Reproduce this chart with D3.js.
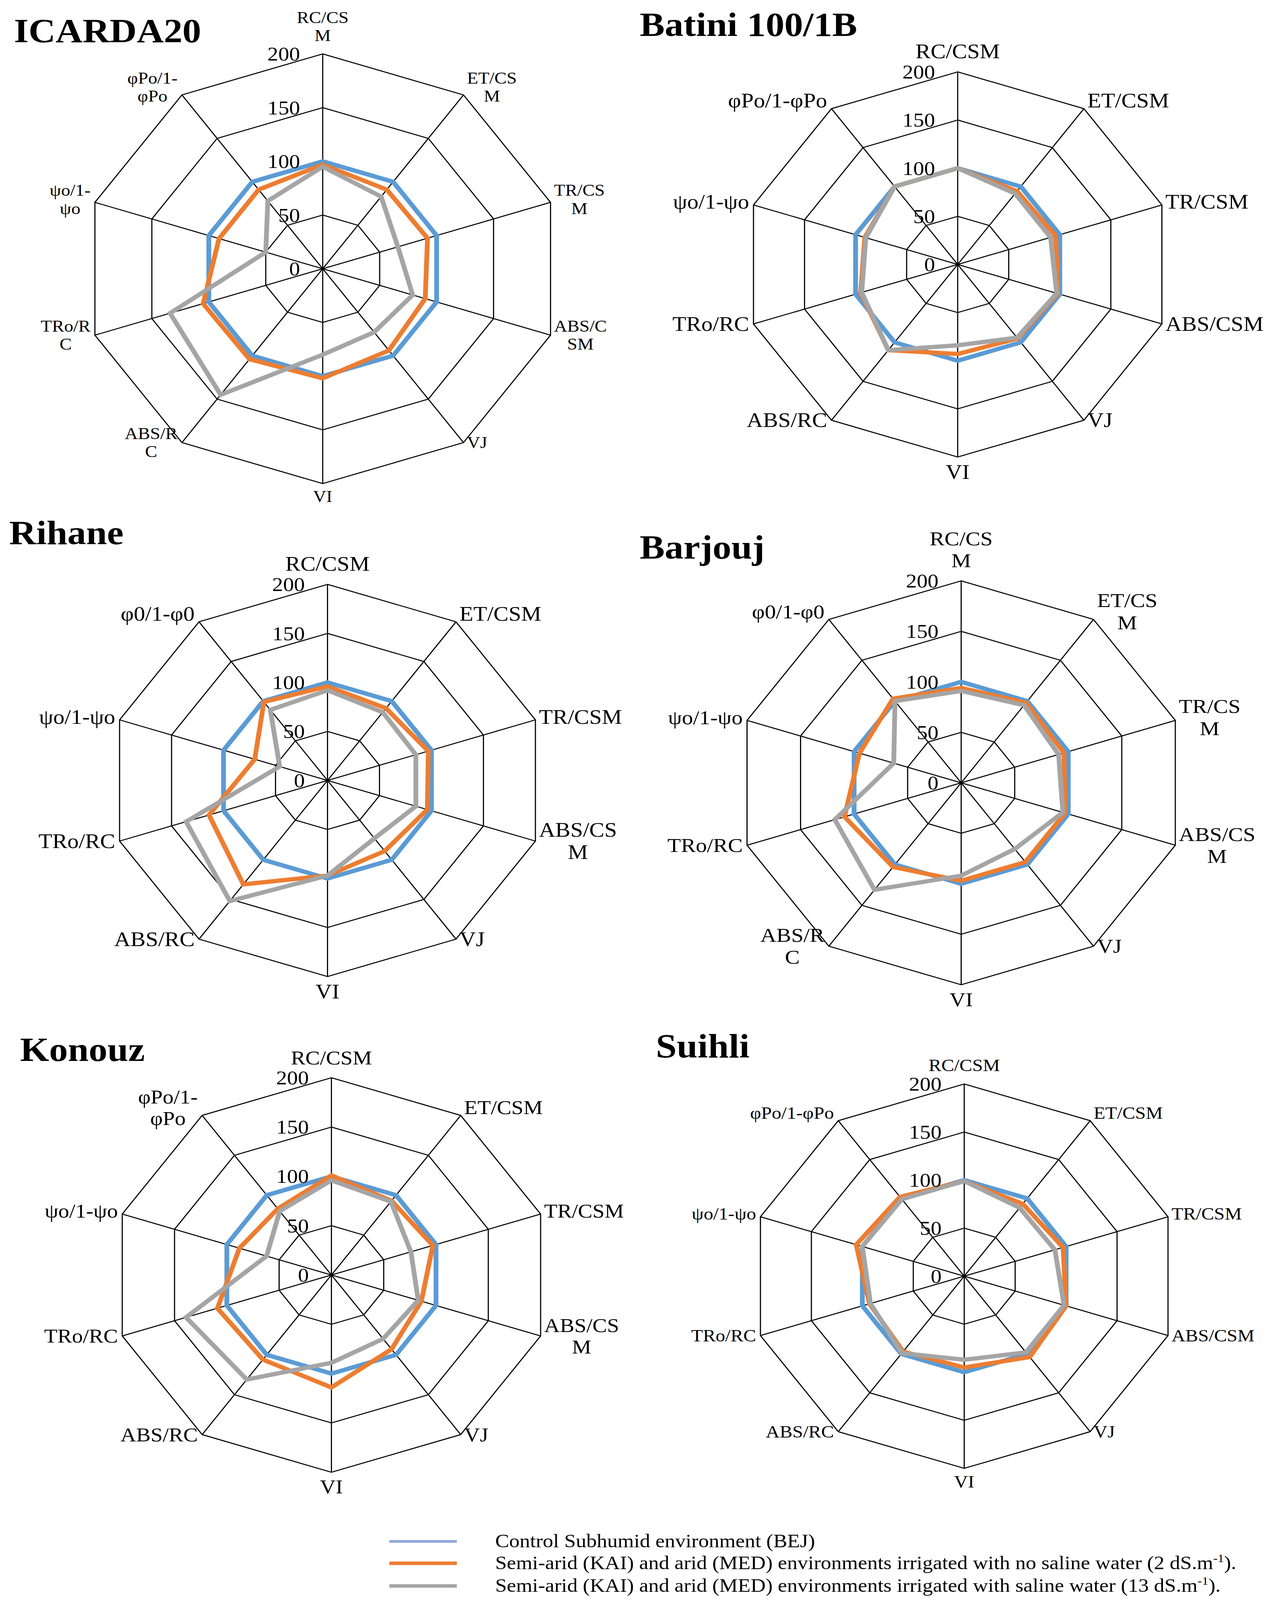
<!DOCTYPE html>
<html>
<head>
<meta charset="utf-8">
<script src="https://cdn.jsdelivr.net/npm/d3@7"></script>
<style>
    body { margin: 0; background: #fff; }
    svg { display: block; }
    text { font-family: "Liberation Serif", "Times New Roman", serif; fill: #000; }
</style>
</head>
<body>
<svg id="chart"></svg>
<script>
// ---- data (percent of control) ----
const ticks = [0, 50, 100, 150, 200];

const seriesNames = ['Control Subhumid environment (BEJ)',
    'Semi-arid (KAI) and arid (MED) environments irrigated with no saline water (2 dS.m',
    'Semi-arid (KAI) and arid (MED) environments irrigated with saline water (13 dS.m'];

// axis order: RC/CSM, ET/CSM, TR/CSM, ABS/CSM, VJ, VI, ABS/RC, TRo/RC, psi, phi
const icardaLabels = ['RC/CS\nM', 'ET/CS\nM', 'TR/CS\nM', 'ABS/C\nSM', 'VJ', 'VI', 'ABS/R\nC', 'TRo/R\nC', 'ψo/1-\nψo', 'φPo/1-\nφPo'];
const batiniLabels = ['RC/CSM', 'ET/CSM', 'TR/CSM', 'ABS/CSM', 'VJ', 'VI', 'ABS/RC', 'TRo/RC', 'ψo/1-ψo', 'φPo/1-φPo'];
const rihaneLabels = ['RC/CSM', 'ET/CSM', 'TR/CSM', 'ABS/CS\nM', 'VJ', 'VI', 'ABS/RC', 'TRo/RC', 'ψo/1-ψo', 'φ0/1-φ0'];
const barjoujLabels = ['RC/CS\nM', 'ET/CS\nM', 'TR/CS\nM', 'ABS/CS\nM', 'VJ', 'VI', 'ABS/R\nC', 'TRo/RC', 'ψo/1-ψo', 'φ0/1-φ0'];
const konouzLabels = ['RC/CSM', 'ET/CSM', 'TR/CSM', 'ABS/CS\nM', 'VJ', 'VI', 'ABS/RC', 'TRo/RC', 'ψo/1-ψo', 'φPo/1-\nφPo'];
const suihliLabels = ['RC/CSM', 'ET/CSM', 'TR/CSM', 'ABS/CSM', 'VJ', 'VI', 'ABS/RC', 'TRo/RC', 'ψo/1-ψo', 'φPo/1-φPo'];

const icardaControl = [100, 100, 100, 100, 100, 100, 100, 100, 100, 100];
const icardaFresh   = [97, 91, 92, 90, 94, 102, 104, 105, 91, 91];
const icardaSaline  = [95, 83, 66, 79, 73, 80, 145, 134, 50, 78];

const batiniControl = [100, 100, 100, 100, 100, 100, 100, 100, 100, 100];
const batiniFresh   = [100, 94, 96, 98, 95, 93, 110, 95, 91, 100];
const batiniSaline  = [100, 91, 91, 97, 94, 84, 110, 94, 90, 100];

const rihaneControl = [100, 100, 100, 100, 100, 100, 100, 100, 100, 100];
const rihaneFresh   = [96, 91, 97, 96, 89, 97, 131, 114, 70, 99];
const rihaneSaline  = [92, 86, 85, 85, 73, 97, 152, 136, 46, 89];

const barjoujControl = [100, 100, 100, 100, 100, 100, 100, 100, 100, 100];
const barjoujFresh   = [94, 98, 96, 97, 97, 97, 103, 109, 95, 103];
const barjoujSaline  = [91, 95, 91, 95, 81, 92, 131, 118, 63, 100];

const konouzControl = [100, 100, 100, 100, 100, 100, 100, 100, 100, 100];
const konouzFresh   = [101, 93, 97, 86, 93, 114, 106, 109, 88, 83];
const konouzSaline  = [96, 92, 76, 83, 80, 89, 131, 139, 62, 80];

const suihliControl = [100, 100, 100, 100, 100, 100, 100, 100, 100, 100];
const suihliFresh   = [99, 93, 97, 100, 104, 95, 97, 93, 106, 102];
const suihliSaline  = [99, 88, 89, 98, 98, 87, 99, 92, 100, 99];

// ---- layout ----
const W = 2923, H = 4120;   // figure is stretched horizontally to 3259 px
const colors = ['#5B9BD5', '#ED7D31', '#A5A5A5'];

const panels = [
    { title: 'ICARDA20', tx: 32, ty: 108, cx: 741, cy: 688, r: 550, fs: 42, labels: icardaLabels, series: [icardaControl, icardaFresh, icardaSaline] },
    { title: 'Batini 100/1B', tx: 1469, ty: 92, cx: 2199, cy: 677, r: 493, fs: 52, labels: batiniLabels, series: [batiniControl, batiniFresh, batiniSaline] },
    { title: 'Rihane', tx: 21, ty: 1393, cx: 752, cy: 1998, r: 502, fs: 52, labels: rihaneLabels, series: [rihaneControl, rihaneFresh, rihaneSaline] },
    { title: 'Barjouj', tx: 1469, ty: 1430, cx: 2207, cy: 2004, r: 517, fs: 51, labels: barjoujLabels, series: [barjoujControl, barjoujFresh, barjoujSaline] },
    { title: 'Konouz', tx: 46, ty: 2716, cx: 761, cy: 3264, r: 505, fs: 50, labels: konouzLabels, series: [konouzControl, konouzFresh, konouzSaline] },
    { title: 'Suihli', tx: 1506, ty: 2707, cx: 2214, cy: 3267, r: 492, fs: 44, labels: suihliLabels, series: [suihliControl, suihliFresh, suihliSaline] }
];

const svg = d3.select('#chart')
    .attr('width', 3259)
    .attr('height', H)
    .attr('viewBox', `0 0 ${W} ${H}`)
    .attr('preserveAspectRatio', 'none');

svg.append('rect').attr('width', W).attr('height', H).attr('fill', '#fff');

function drawPanel(p) {
    const n = p.labels.length;
    const angle = i => i * 2 * Math.PI / n;
    const rScale = d3.scaleLinear().domain([0, 200]).range([0, p.r]);

    const g = svg.append('g').attr('transform', `translate(${p.cx},${p.cy})`);

    // grid rings
    const ring = d3.lineRadial()
        .angle((d, i) => angle(i))
        .radius(d => rScale(d))
        .curve(d3.curveLinearClosed);

    g.selectAll('.ring')
        .data(ticks.slice(1))
        .join('path')
        .attr('class', 'ring')
        .attr('d', t => ring(d3.range(n).map(() => t)))
        .attr('fill', 'none')
        .attr('stroke', '#000')
        .attr('stroke-width', 2.6);

    // spokes
    g.selectAll('.spoke')
        .data(d3.range(n))
        .join('line')
        .attr('class', 'spoke')
        .attr('x1', 0).attr('y1', 0)
        .attr('x2', i => rScale(200) * Math.sin(angle(i)))
        .attr('y2', i => -rScale(200) * Math.cos(angle(i)))
        .attr('stroke', '#000')
        .attr('stroke-width', 2.6);

    // series
    g.selectAll('.series')
        .data(p.series)
        .join('path')
        .attr('class', 'series')
        .attr('d', d => ring(d))
        .attr('fill', 'none')
        .attr('stroke', (d, i) => colors[i])
        .attr('stroke-width', 11)
        .attr('stroke-linejoin', 'miter');

    // tick labels
    g.selectAll('.tick-label')
        .data(ticks)
        .join('text')
        .attr('class', 'tick-label')
        .attr('x', -52)
        .attr('y', t => -rScale(t))
        .attr('dominant-baseline', 'central')
        .attr('text-anchor', 'end')
        .style('font-size', '50px')
        .text(t => t);

    // category labels
    const lh = p.fs * 1.1;
    const R = rScale(200);
    p.labels.forEach((lab, i) => {
        const lines = lab.split('\n');
        const s = Math.sin(angle(i)), c = Math.cos(angle(i));
        const vx = R * s, vy = -R * c;
        const blockH = lines.length * lh;
        let bcy;
        if (Math.abs(s) < 0.1) bcy = c > 0 ? vy - 24 - blockH / 2 : vy + 10 + blockH / 2;
        else bcy = vy - (c > 0 ? 25 * c : 0);

        const txt = g.append('g').attr('class', 'cat-label');
        const items = lines.map((ln, k) => txt.append('text')
            .attr('y', bcy - blockH / 2 + lh * (k + 0.5))
            .attr('dominant-baseline', 'central')
            .attr('text-anchor', 'middle')
            .style('font-size', p.fs + 'px')
            .text(ln));
        const bw = d3.max(items, t => t.node().getComputedTextLength());
        let bx = vx;
        if (s > 0.1) bx = vx + 8 + bw / 2;
        else if (s < -0.1) bx = vx - 10 - bw / 2;
        items.forEach(t => t.attr('x', bx));
    });

    // title
    svg.append('text')
        .attr('x', p.tx)
        .attr('y', p.ty)
        .style('font-size', '86px')
        .style('font-weight', 'bold')
        .text(p.title);
}

panels.forEach(drawPanel);

// ---- legend ----
const legendY = [3946, 4002, 4060];
const legendStroke = [7, 9, 9];
const legendColors = ['#8EA9DB', '#ED7D31', '#A5A5A5'];
const legend = svg.append('g').attr('class', 'legend');

legend.selectAll('line')
    .data(seriesNames)
    .join('line')
    .attr('x1', 894).attr('x2', 1049)
    .attr('y1', (d, i) => legendY[i]).attr('y2', (d, i) => legendY[i])
    .attr('stroke', (d, i) => legendColors[i])
    .attr('stroke-width', (d, i) => legendStroke[i]);

seriesNames.forEach((name, i) => {
    const t = legend.append('text')
        .attr('x', 1137)
        .attr('y', legendY[i] + 15)
        .style('font-size', '48px');
    t.append('tspan').text(name);
    if (i > 0) {
        t.append('tspan').attr('dy', -18).style('font-size', '30px').text('-1');
        t.append('tspan').attr('dy', 18).text(').');
    }
});
</script>
</body>
</html>
